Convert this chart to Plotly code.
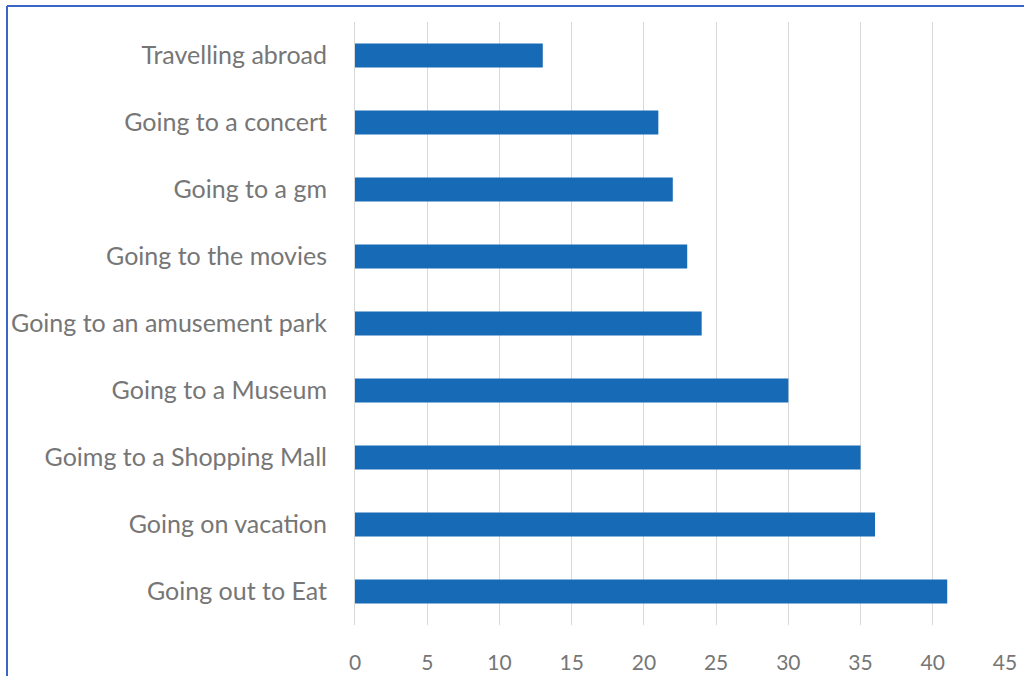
import plotly.graph_objects as go

categories = [
    "Going out to Eat",
    "Going on vacation",
    "Goimg to a Shopping Mall",
    "Going to a Museum",
    "Going to an amusement park",
    "Going to the movies",
    "Going to a gm",
    "Going to a concert",
    "Travelling abroad",
]
values = [41, 36, 35, 30, 24, 23, 22, 21, 13]
x_ticks = [0, 5, 10, 15, 20, 25, 30, 35, 40, 45]

W, H = 1024, 676
ml, mr, mt, mb = 355, 19, 22, 51
pw, ph = W - ml - mr, H - mt - mb

fig = go.Figure(go.Bar(
    x=values, y=categories, orientation="h",
    marker=dict(color="#176AB6", line=dict(width=0)),
    width=0.36,
))

font_family = "Lato, 'Open Sans', sans-serif"
fig.update_layout(
    width=W, height=H,
    margin=dict(l=ml, r=mr, t=mt, b=mb, pad=0, autoexpand=False),
    paper_bgcolor="white", plot_bgcolor="white",
    showlegend=False,
    font=dict(family=font_family, color="#767676"),
    xaxis=dict(
        range=[0, 45], tickvals=x_ticks, showgrid=True, gridcolor="#D9D9D9", gridwidth=1,
        zeroline=False, showline=False, ticks="", tickfont=dict(size=21, color="#767676"),
        ticklabelstandoff=23, fixedrange=True, automargin=False,
    ),
    yaxis=dict(
        showgrid=False, zeroline=False, showline=True, linecolor="#D9D9D9", linewidth=1,
        ticks="", tickfont=dict(size=25, color="#767676"), ticklabelstandoff=22,
        automargin=False,
    ),
    shapes=[
        dict(type="line", xref="paper", yref="paper",
             x0=(7 - ml) / pw, x1=(W - ml) / pw, y0=(H - mb - 6) / ph, y1=(H - mb - 6) / ph,
             line=dict(color="#3A66C8", width=2)),
        dict(type="line", xref="paper", yref="paper",
             x0=(7 - ml) / pw, x1=(7 - ml) / pw, y0=(H - mb - 6) / ph, y1=(-mb - 5) / ph,
             line=dict(color="#3A66C8", width=2)),
    ],
)

fig.write_html("out.html")
